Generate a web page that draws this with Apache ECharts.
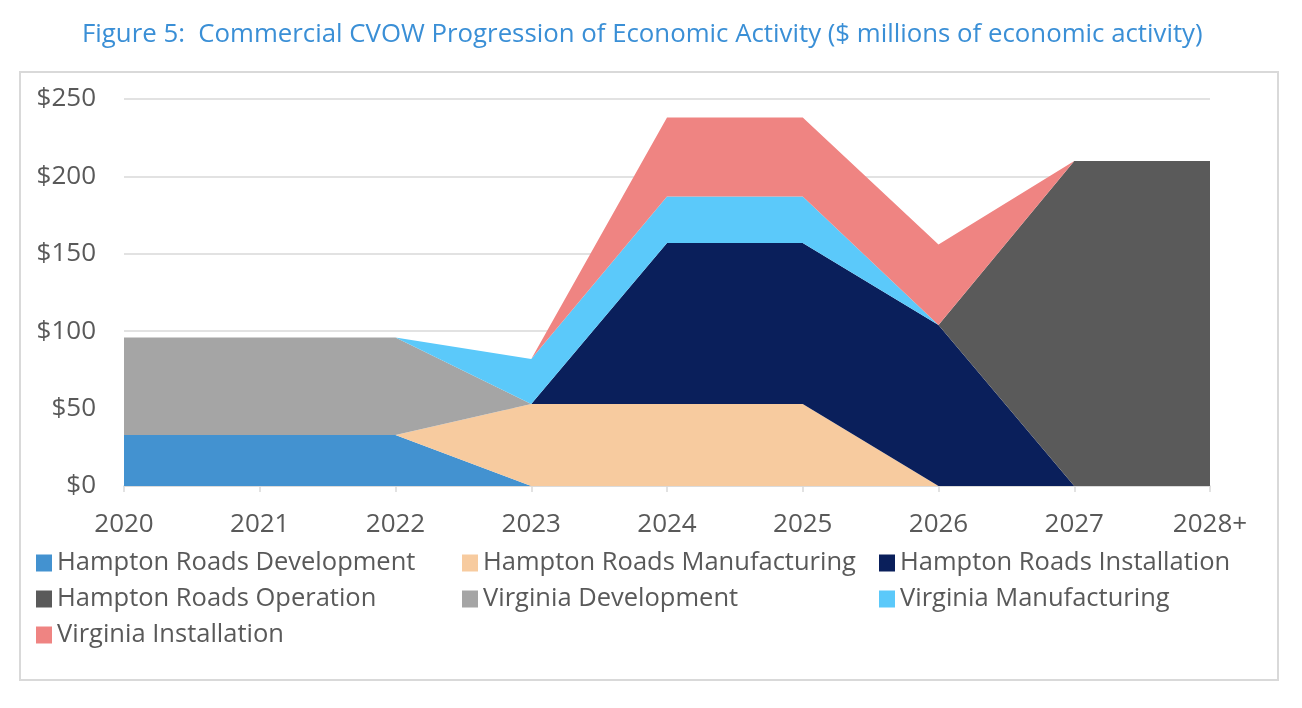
<!DOCTYPE html>
<html>
<head>
<meta charset="utf-8">
<script src="https://cdn.jsdelivr.net/npm/echarts@6/dist/echarts.min.js"></script>
<style>
  html, body { margin: 0; padding: 0; background: #fff; }
  #chart { width: 1302px; height: 708px; }
</style>
</head>
<body>
<div id="chart"></div>
<script>
const years = ['2020', '2021', '2022', '2023', '2024', '2025', '2026', '2027', '2028+'];

const hrDevelopment   = [33, 33, 33, 0, 0, 0, 0, 0, 0];
const hrManufacturing = [0, 0, 0, 53, 53, 53, 0, 0, 0];
const hrInstallation  = [0, 0, 0, 0, 104, 104, 104, 0, 0];
const hrOperation     = [0, 0, 0, 0, 0, 0, 0, 210, 210];
const vaDevelopment   = [63, 63, 63, 0, 0, 0, 0, 0, 0];
const vaManufacturing = [0, 0, 0, 29, 30, 30, 0, 0, 0];
const vaInstallation  = [0, 0, 0, 0, 51, 51, 52, 0, 0];

const seriesDefs = [
    { name: 'Hampton Roads Development', data: hrDevelopment, color: '#4392D0' },
    { name: 'Hampton Roads Manufacturing', data: hrManufacturing, color: '#F7CB9F' },
    { name: 'Hampton Roads Installation', data: hrInstallation, color: '#0A1F5B' },
    { name: 'Hampton Roads Operation', data: hrOperation, color: '#5A5A5A' },
    { name: 'Virginia Development', data: vaDevelopment, color: '#A5A5A5' },
    { name: 'Virginia Manufacturing', data: vaManufacturing, color: '#5BC9FA' },
    { name: 'Virginia Installation', data: vaInstallation, color: '#EF8482' }
];

const FONT = '"Open Sans", sans-serif';
const TEXT = '#595959';

const chart = echarts.init(document.getElementById('chart'));

const legendBase = {
    orient: 'vertical',
    top: 545,
    itemWidth: 16,
    itemHeight: 17,
    itemGap: 10,
    icon: 'rect',
    textStyle: { color: TEXT, fontSize: 25.5, fontFamily: FONT },
    selectedMode: false
};

chart.setOption({
    animation: false,
    title: {
        text: 'Figure 5:  Commercial CVOW Progression of Economic Activity ($ millions of economic activity)',
        left: 77,
        top: 17,
        textStyle: { color: '#3A8FD6', fontSize: 25.8, fontWeight: 'normal', fontFamily: FONT }
    },
    graphic: [{
        type: 'rect',
        shape: { x: 20, y: 72, width: 1258, height: 608 },
        style: { fill: 'none', stroke: '#D9D9D9', lineWidth: 2 },
        silent: true
    }],
    legend: [
        Object.assign({}, legendBase, { left: 31, data: ['Hampton Roads Development', 'Hampton Roads Operation', 'Virginia Installation'] }),
        Object.assign({}, legendBase, { left: 457, data: ['Hampton Roads Manufacturing', 'Virginia Development'] }),
        Object.assign({}, legendBase, { left: 874, data: ['Hampton Roads Installation', 'Virginia Manufacturing'] })
    ],
    grid: { left: 124, right: 92, top: 99, bottom: 222 },
    xAxis: {
        type: 'category',
        data: years,
        boundaryGap: false,
        axisLine: { lineStyle: { color: '#D9D9D9', width: 1.5 } },
        axisTick: { show: true, length: 6, lineStyle: { color: '#D9D9D9', width: 1.5 } },
        axisLabel: { color: TEXT, fontSize: 26, fontFamily: FONT, margin: 26 }
    },
    yAxis: {
        type: 'value',
        min: 0,
        max: 250,
        interval: 50,
        axisLine: { show: false },
        axisTick: { show: false },
        splitLine: { lineStyle: { color: '#D9D9D9', width: 1.5 } },
        axisLabel: { color: TEXT, fontSize: 26, fontFamily: FONT, margin: 28, formatter: v => '$' + v }
    },
    series: seriesDefs.map(s => ({
        name: s.name,
        type: 'line',
        stack: 'total',
        data: s.data,
        symbol: 'none',
        lineStyle: { width: 0 },
        areaStyle: { color: s.color, opacity: 1 },
        itemStyle: { color: s.color },
        z: 3
    }))
});
</script>
</body>
</html>
